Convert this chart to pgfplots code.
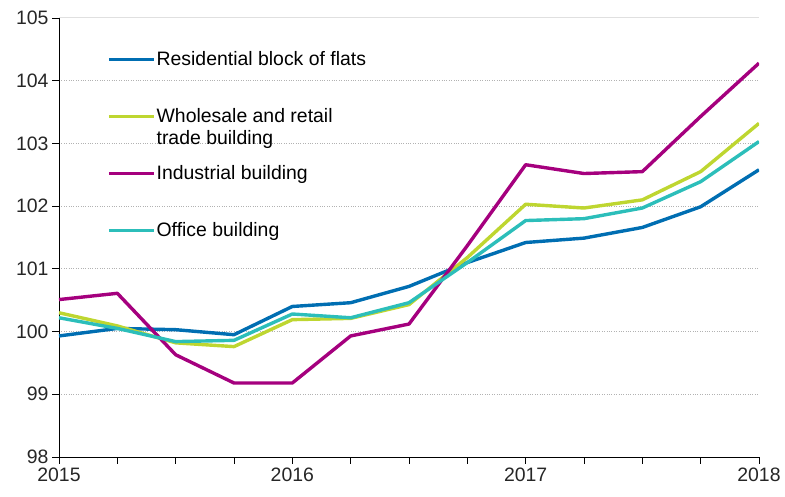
\documentclass[border=0pt]{standalone}
\usepackage{pgfplots}
\pgfplotsset{compat=1.18}
\usepackage{fontspec}
\setmainfont{Liberation Sans}
\definecolor{cblue}{RGB}{0,110,178}
\definecolor{cgreen}{RGB}{190,214,48}
\definecolor{cpurple}{RGB}{165,0,126}
\definecolor{cteal}{RGB}{44,190,186}
\begin{document}
\begin{tikzpicture}
\begin{axis}[
  name=ax,
  scale only axis, width=700bp, height=439bp,
  xmin=0, xmax=12, ymin=98, ymax=105,
  xtick={0,4,8,12}, xticklabels={2015,2016,2017,2018},
  minor xtick={1,2,3,5,6,7,9,10,11},
  ytick={98,...,104},
  extra y ticks={105}, extra y tick labels={105},
  extra y tick style={grid style={solid, black!12, line width=1bp}},
  axis x line*=bottom, axis y line*=left,
  axis line style={black, line width=0.9bp},
  tick style={black, line width=0.9bp},
  major tick length=7bp, minor tick length=7bp,
  tick align=outside,
  ymajorgrids, grid style={black!30, dotted, line width=0.8bp},
  /pgf/number format/assume math mode=true,
  tick label style={font=\fontsize{19.5}{23}\selectfont, black!85},
  legend style={at={(0.0686,0.923)}, anchor=north west, draw=none, fill=none,
    inner sep=0pt,
    font=\fontsize{19.5}{22}\selectfont, row sep=11bp, column sep=0bp,
    nodes={align=left, inner sep=1bp, text height=13bp, text depth=31bp}},
  legend cell align=left,
  legend image code/.code={\draw[#1] (0bp,15.5bp) -- (45bp,15.5bp);},
  every axis plot/.append style={line width=3.4bp, line join=round},
]
\addplot[cblue] coordinates {(0,99.93) (1,100.05) (2,100.03) (3,99.95) (4,100.40) (5,100.46) (6,100.72) (7,101.10) (8,101.42) (9,101.49) (10,101.66) (11,101.99) (12,102.58)};
\addlegendentry{Residential block of flats}
\addplot[cgreen] coordinates {(0,100.30) (1,100.09) (2,99.82) (3,99.76) (4,100.19) (5,100.21) (6,100.43) (7,101.18) (8,102.03) (9,101.97) (10,102.10) (11,102.55) (12,103.32)};
\addlegendentry{\vtop{\hbox{Wholesale and retail}\hbox{trade building}}}
\addplot[cpurple] coordinates {(0,100.51) (1,100.61) (2,99.63) (3,99.18) (4,99.18) (5,99.93) (6,100.12) (7,101.37) (8,102.66) (9,102.52) (10,102.55) (11,103.43) (12,104.28)};
\addlegendentry{Industrial building}
\addplot[cteal] coordinates {(0,100.22) (1,100.05) (2,99.84) (3,99.86) (4,100.28) (5,100.22) (6,100.46) (7,101.10) (8,101.77) (9,101.80) (10,101.97) (11,102.39) (12,103.03)};
\addlegendentry{Office building}
\end{axis}
\pgfresetboundingbox
\path (ax.south west) ++(-59bp,-40bp) rectangle ([shift={(26bp,18bp)}]ax.north east);
\end{tikzpicture}
\end{document}
